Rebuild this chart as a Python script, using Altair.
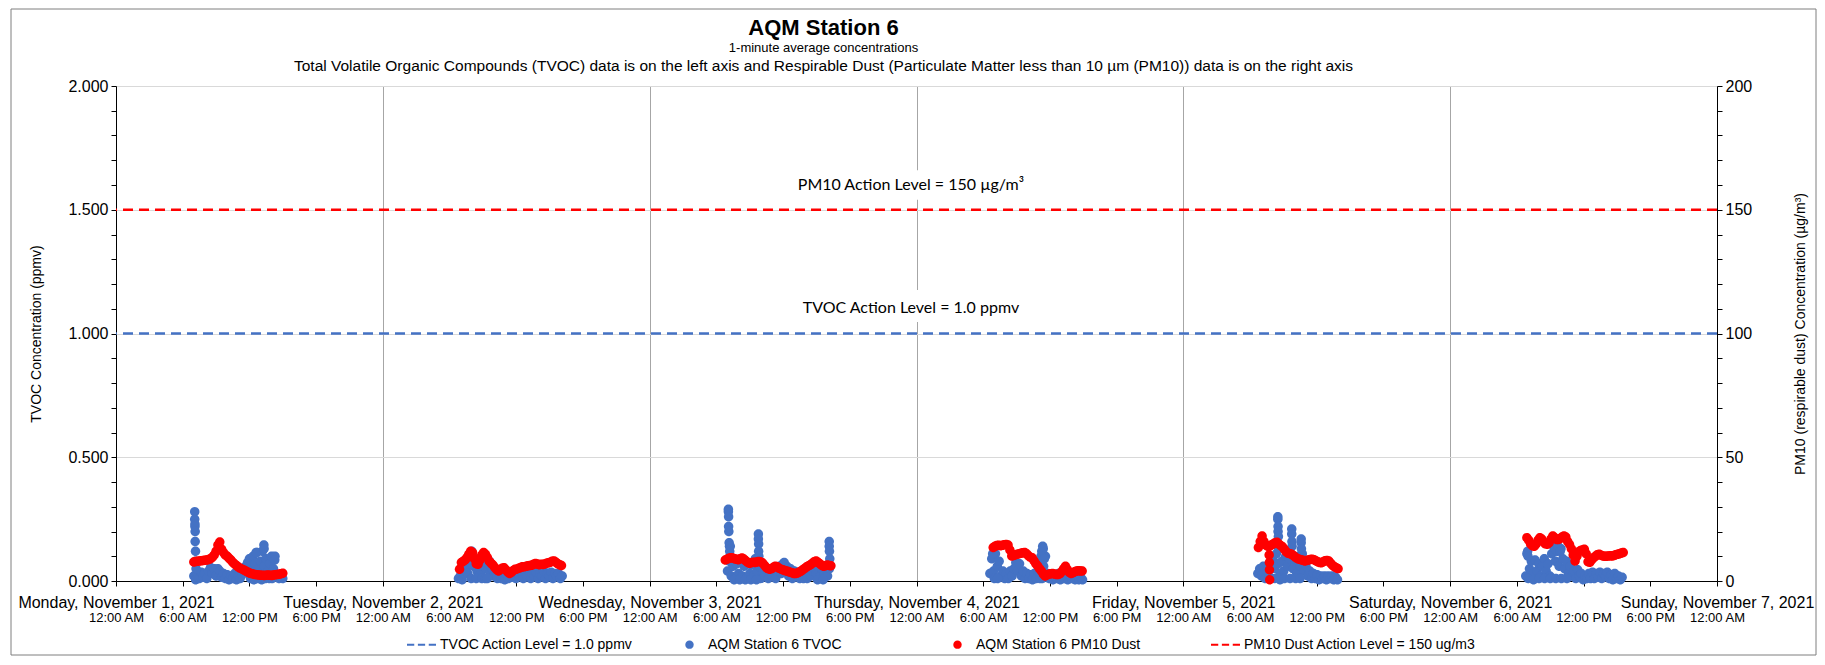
import altair as alt
import pandas as pd

# ---------------- data ----------------
DAY_DATES = ["2021-11-01", "2021-11-02", "2021-11-03", "2021-11-04", "2021-11-05", "2021-11-06"]
STEP_MINUTES = 10

SERIES = [
    "TVOC Action Level = 1.0 ppmv",
    "AQM Station 6 TVOC",
    "AQM Station 6 PM10 Dust",
    "PM10 Dust Action Level = 150 ug/m3",
]
SERIES_COLORS = ["#4472C4", "#4472C4", "#FF0000", "#FF0000"]

TVOC_ACTION = 1.0
PM10_ACTION = 150

# TVOC (ppmv), one reading every STEP_MINUTES starting at TVOC_START hour of each day
TVOC_START = [7.0, 6.8, 7.0, 6.6, 6.7, 6.8]
TVOC_D1 = [0.02, 0.005, 0.03, 0.01, 0.035, 0.015, 0.03, 0.01, 0.04, 0.055, 0.03, 0.05, 0.02, 0.05, 0.04,
           0.015, 0.03, 0.01, 0.025, 0.005, 0.02, 0.01, 0.03, 0.005, 0.02, 0.01, 0.025, 0.04, 0.06, 0.075,
           0.09, 0.06, 0.10, 0.07, 0.115, 0.05, 0.08, 0.12, 0.06, 0.09, 0.04, 0.07, 0.10, 0.05, 0.03, 0.02,
           0.01, 0.02, 0.01]
TVOC_D2 = [0.01, 0.02, 0.005, 0.03, 0.05, 0.03, 0.08, 0.11, 0.06, 0.09, 0.04, 0.07, 0.03, 0.06, 0.08, 0.05,
           0.07, 0.03, 0.05, 0.02, 0.04, 0.01, 0.03, 0.01, 0.02, 0.005, 0.025, 0.01, 0.03, 0.015, 0.035,
           0.01, 0.03, 0.02, 0.04, 0.01, 0.03, 0.02, 0.04, 0.01, 0.03, 0.02, 0.035, 0.01, 0.03, 0.02, 0.04,
           0.01, 0.03, 0.02, 0.035, 0.01, 0.03, 0.02, 0.03, 0.01, 0.02]
TVOC_D3 = [0.04, 0.08, 0.02, 0.06, 0.01, 0.07, 0.03, 0.08, 0.02, 0.06, 0.01, 0.07, 0.03, 0.065, 0.02, 0.08,
           0.04, 0.06, 0.01, 0.04, 0.02, 0.05, 0.01, 0.04, 0.02, 0.05, 0.01, 0.04, 0.06, 0.03, 0.07, 0.04,
           0.06, 0.02, 0.05, 0.01, 0.04, 0.02, 0.035, 0.01, 0.035, 0.01, 0.035, 0.01, 0.035, 0.02, 0.04,
           0.05, 0.03, 0.06, 0.02, 0.05, 0.03, 0.06, 0.02, 0.05]
TVOC_D4 = [0.03, 0.09, 0.04, 0.11, 0.06, 0.08, 0.02, 0.04, 0.01, 0.03, 0.01, 0.04, 0.02, 0.05, 0.075, 0.04,
           0.07, 0.02, 0.04, 0.01, 0.03, 0.01, 0.025, 0.005, 0.03, 0.01, 0.04, 0.08, 0.12, 0.06, 0.10, 0.03,
           0.01, 0.025, 0.005, 0.02, 0.01, 0.03, 0.005, 0.02, 0.01, 0.025, 0.005, 0.02, 0.01, 0.02, 0.005,
           0.015, 0.005, 0.015, 0.005]
TVOC_D5 = [0.03, 0.05, 0.02, 0.06, 0.01, 0.04, 0.02, 0.06, 0.09, 0.05, 0.11, 0.07, 0.03, 0.08, 0.04, 0.10,
           0.06, 0.09, 0.11, 0.05, 0.08, 0.03, 0.10, 0.06, 0.11, 0.04, 0.06, 0.02, 0.04, 0.01, 0.03, 0.01,
           0.025, 0.005, 0.02, 0.01, 0.02, 0.005, 0.02, 0.01, 0.02, 0.005, 0.015, 0.005]
TVOC_D6 = [0.02, 0.12, 0.05, 0.08, 0.03, 0.085, 0.04, 0.07, 0.02, 0.06, 0.09, 0.04, 0.07, 0.02, 0.11, 0.14,
           0.08, 0.12, 0.06, 0.13, 0.09, 0.05, 0.08, 0.03, 0.06, 0.02, 0.04, 0.01, 0.045, 0.02, 0.03, 0.005,
           0.02, 0.01, 0.03, 0.01, 0.035, 0.01, 0.03, 0.015, 0.035, 0.01, 0.03, 0.02, 0.035, 0.01, 0.025,
           0.005, 0.03, 0.01, 0.02, 0.005, 0.015]
TVOC_VALUES = [TVOC_D1, TVOC_D2, TVOC_D3, TVOC_D4, TVOC_D5, TVOC_D6]

# short bursts of readings (hour of day, ppmv)
TVOC_EXTRA_D1 = [(7.08, 0.28), (7.08, 0.25), (7.1, 0.23), (7.1, 0.22), (7.12, 0.20), (7.12, 0.16), (7.15, 0.12),
                 (7.15, 0.08), (7.2, 0.05), (12.1, 0.01), (12.4, 0.005), (12.6, 0.115), (12.75, 0.01),
                 (13.1, 0.005), (13.3, 0.145), (13.32, 0.13), (13.45, 0.01), (13.8, 0.01), (14.05, 0.01),
                 (14.3, 0.10), (14.28, 0.085)]
TVOC_EXTRA_D2 = [(7.9, 0.115), (8.0, 0.12), (8.1, 0.10), (7.95, 0.01), (8.4, 0.01), (8.9, 0.01), (9.2, 0.01),
                 (9.4, 0.01), (9.6, 0.08)]
TVOC_EXTRA_D3 = [(7.08, 0.29), (7.08, 0.28), (7.1, 0.26), (7.1, 0.22), (7.12, 0.20), (7.15, 0.155), (7.18, 0.14),
                 (7.2, 0.12), (7.22, 0.10), (7.25, 0.14), (9.78, 0.19), (9.78, 0.17), (9.8, 0.15), (9.8, 0.12),
                 (9.82, 0.10), (16.15, 0.16), (16.15, 0.14), (16.17, 0.12), (16.2, 0.09), (9.5, 0.09),
                 (12.1, 0.075), (7.6, 0.005), (8.1, 0.005), (8.6, 0.005), (9.1, 0.005), (9.6, 0.005),
                 (15.1, 0.005), (15.6, 0.005)]
TVOC_EXTRA_D4 = [(11.35, 0.14), (11.4, 0.13), (11.2, 0.10), (11.5, 0.09), (11.3, 0.01), (11.1, 0.01),
                 (7.0, 0.01), (7.3, 0.01), (6.85, 0.11)]
TVOC_EXTRA_D5 = [(8.5, 0.26), (8.5, 0.25), (8.52, 0.22), (8.52, 0.20), (8.55, 0.18), (8.55, 0.15), (8.58, 0.13),
                 (9.75, 0.21), (9.75, 0.19), (9.77, 0.16), (9.78, 0.14), (10.6, 0.17), (10.6, 0.155),
                 (10.62, 0.13), (8.2, 0.01), (8.7, 0.005), (9.1, 0.01), (9.6, 0.01), (10.1, 0.01), (10.5, 0.01)]
TVOC_EXTRA_D6 = [(7.0, 0.01), (7.5, 0.005), (8.0, 0.01), (8.5, 0.01), (9.0, 0.01), (9.5, 0.01), (10.0, 0.01),
                 (10.5, 0.01), (6.9, 0.11), (7.0, 0.10), (9.4, 0.13), (9.7, 0.14), (9.9, 0.12)]
TVOC_EXTRAS = [TVOC_EXTRA_D1, TVOC_EXTRA_D2, TVOC_EXTRA_D3, TVOC_EXTRA_D4, TVOC_EXTRA_D5, TVOC_EXTRA_D6]

# PM10 (ug/m3), one reading every STEP_MINUTES starting at PM10_START hour of each day
PM10_START = [7.0, 6.9, 6.8, 6.9, 6.75, 6.9]
PM10_D1 = [7.7, 7.9, 8.0, 8.1, 8.2, 8.3, 8.4, 8.5, 8.7, 9.0, 9.6, 10.5, 12.0, 14.5, 15.8, 12.8, 11.5, 10.5,
           10.0, 9.2, 8.5, 7.6, 6.9, 6.3, 5.7, 5.2, 4.8, 4.4, 4.0, 3.6, 3.2, 3.0, 2.8, 2.6, 2.5, 2.4, 2.3,
           2.3, 2.2, 2.3, 2.4, 2.3, 2.2, 2.4, 2.5, 2.6, 2.7, 2.9, 3.1]
PM10_D2 = [4.7, 7.5, 8.0, 8.5, 9.5, 10.8, 12.0, 11.5, 9.0, 7.0, 6.8, 8.5, 10.5, 11.5, 10.8, 9.5, 8.0, 7.2,
           6.5, 5.5, 4.6, 4.0, 4.6, 5.2, 5.4, 4.5, 3.6, 3.0, 3.5, 4.2, 4.7, 4.8, 5.2, 5.5, 5.8, 5.8, 6.0, 6.2,
           6.3, 6.4, 6.8, 7.1, 6.9, 6.6, 6.8, 6.7, 6.9, 7.2, 7.4, 7.6, 8.0, 8.1, 7.6, 7.0, 6.6, 6.3]
PM10_D3 = [8.5, 8.8, 9.2, 9.4, 9.3, 9.0, 8.8, 8.6, 9.0, 9.3, 8.9, 8.2, 7.6, 7.2, 7.4, 7.6, 7.5, 7.7, 7.9,
           7.8, 7.4, 6.5, 5.6, 5.0, 4.7, 5.0, 5.6, 6.0, 5.8, 5.2, 4.8, 4.5, 4.2, 4.0, 3.8, 3.5, 3.3, 3.0,
           3.0, 3.2, 3.6, 4.0, 4.6, 5.2, 5.8, 6.2, 6.6, 7.2, 7.8, 8.1, 7.6, 7.0, 6.4, 6.0, 6.2, 6.5, 6.3, 6.2]
PM10_D4 = [13.5, 14.0, 14.3, 14.4, 14.2, 14.4, 14.6, 14.8, 14.5, 12.5, 10.1, 10.3, 10.6, 10.8, 11.0, 11.2,
           11.4, 11.5, 11.0, 10.2, 9.6, 9.4, 8.2, 7.0, 6.1, 5.0, 4.0, 2.8, 2.0, 2.4, 2.7, 2.9, 3.0, 2.8, 2.6,
           2.6, 2.9, 3.8, 5.0, 6.0, 4.6, 3.5, 3.0, 3.3, 3.7, 4.0, 4.1, 4.0, 4.0]
PM10_D5 = [13.5, 16.0, 18.2, 16.0, 14.5, 14.0, 14.0, 14.5, 15.0, 15.5, 15.7, 15.0, 14.3, 13.8, 12.8, 11.8,
           11.2, 11.0, 10.8, 10.2, 9.6, 9.1, 8.8, 8.6, 8.4, 8.1, 8.3, 8.5, 8.7, 8.8, 8.6, 8.2, 7.8, 7.5, 7.4,
           7.8, 8.2, 8.3, 8.1, 7.2, 6.4, 5.8, 5.4, 5.0]
PM10_D6 = [17.5, 16.5, 15.0, 14.2, 14.0, 15.0, 16.5, 17.5, 17.0, 15.8, 15.0, 14.8, 15.5, 17.0, 18.2, 17.5,
           16.8, 16.8, 17.2, 17.8, 18.2, 17.8, 16.0, 14.8, 13.0, 10.5, 8.1, 10.0, 11.8, 12.3, 12.5, 12.8,
           11.0, 7.8, 7.6, 8.6, 9.4, 10.0, 10.6, 10.8, 10.4, 10.1, 10.0, 10.0, 10.1, 10.2, 10.1, 10.3, 10.6,
           10.8, 11.0, 11.3, 11.5]
PM10_VALUES = [PM10_D1, PM10_D2, PM10_D3, PM10_D4, PM10_D5, PM10_D6]
PM10_EXTRAS = [[], [], [], [], [(7.72, 10.5), (7.74, 7.5), (7.75, 4.5), (7.77, 0.5)], []]

AXIS_START = "2021-11-01"
AXIS_END = "2021-11-07"
DAY_TICKS = ["2021-11-01", "2021-11-02", "2021-11-03", "2021-11-04", "2021-11-05", "2021-11-06", "2021-11-07"]
TICK_HOURS = [0, 6, 12, 18]
TVOC_TICKS = [0.0, 0.1, 0.2, 0.3, 0.4, 0.5, 0.6, 0.7, 0.8, 0.9, 1.0, 1.1, 1.2, 1.3, 1.4, 1.5, 1.6, 1.7, 1.8,
              1.9, 2.0]
PM10_TICKS = [0, 10, 20, 30, 40, 50, 60, 70, 80, 90, 100, 110, 120, 130, 140, 150, 160, 170, 180, 190, 200]

NOTE_TEXT = ["PM10 Action Level = 150 µg/m³", "TVOC Action Level = 1.0 ppmv"]
NOTE_TIME = ["2021-11-03T23:30:00Z", "2021-11-03T23:30:00Z"]
NOTE_Y = [1.6, 1.103]                         # in TVOC (left-axis) units
NOTE_BOX_T1 = ["2021-11-03T13:30:00Z", "2021-11-03T13:30:00Z"]
NOTE_BOX_T2 = ["2021-11-04T09:30:00Z", "2021-11-04T09:30:00Z"]
NOTE_BOX_Y1 = [1.54, 1.046]
NOTE_BOX_Y2 = [1.66, 1.176]

TITLE = "AQM Station 6"
SUBTITLE_1 = "1-minute average concentrations"
SUBTITLE_2 = ("Total Volatile Organic Compounds (TVOC) data is on the left axis and Respirable Dust "
              "(Particulate Matter less than 10 µm (PM10)) data is on the right axis")


def iso(ts):
    return ts.strftime("%Y-%m-%dT%H:%M:%SZ")


def ms(day, hour=0):
    return int((pd.Timestamp(day, tz="UTC") + pd.Timedelta(hours=hour)).value // 10**6)


def build(starts, values, extras, name):
    rows = []
    for d, s, vals, ex in zip(DAY_DATES, starts, values, extras):
        base = pd.Timestamp(d) + pd.Timedelta(hours=s)
        for i, v in enumerate(vals):
            rows.append({"t": iso(base + pd.Timedelta(minutes=STEP_MINUTES * i)), "v": v, "series": name})
        for h, v in ex:
            rows.append({"t": iso(pd.Timestamp(d) + pd.Timedelta(hours=h)), "v": v, "series": name})
    return pd.DataFrame(rows)


tvoc_df = build(TVOC_START, TVOC_VALUES, TVOC_EXTRAS, SERIES[1])
pm_df = build(PM10_START, PM10_VALUES, PM10_EXTRAS, SERIES[2])
notes_df = pd.DataFrame({"t": NOTE_TIME, "y": NOTE_Y, "label": NOTE_TEXT,
                         "b1": NOTE_BOX_T1, "b2": NOTE_BOX_T2, "y1": NOTE_BOX_Y1, "y2": NOTE_BOX_Y2})

# ---------------- scales & axes ----------------
FONT = "Liberation Sans"
x_scale = alt.Scale(type="utc", domain=[ms(AXIS_START), ms(AXIS_END)], nice=False)

day_axis = alt.Axis(
    orient="bottom", values=[ms(d) for d in DAY_TICKS],
    labelExpr="utcFormat(datum.value, '%A, %B %-d, %Y')",
    labelFont=FONT, labelFontSize=16, labelColor="black", labelPadding=13, labelLimit=400,
    labelFlush=False, labelOverlap=False, ticks=False, domain=False,
    grid=True, gridColor="#a6a6a6", gridWidth=1, title=None,
)
time_axis = alt.Axis(
    orient="bottom", values=[ms(d, h) for d in DAY_TICKS[:-1] for h in TICK_HOURS] + [ms(DAY_TICKS[-1])],
    labelExpr="utcFormat(datum.value, '%-I:%M %p')",
    labelFont=FONT, labelFontSize=13, labelColor="black", labelPadding=25, labelLimit=200,
    labelFlush=False, labelOverlap=False, tickSize=5, tickColor="black", domainColor="black",
    grid=False, title=None,
)


# the two subtitle lines are carried by label-less top axes so each can have its own size
def top_title_axis(text, size, ty):
    return alt.Axis(
        orient="top", labels=False, ticks=False, domain=False, grid=False,
        title=text, titleFont=FONT, titleFontSize=size, titleFontWeight="normal", titleColor="black",
        titleX=707, titleY=ty, titleAlign="center", titleBaseline="middle", titleLimit=1600,
    )


sub1_axis = top_title_axis(SUBTITLE_1, 13, -39)
sub2_axis = top_title_axis(SUBTITLE_2, 15.5, -21)

yl_scale = alt.Scale(domain=[0, 2], nice=False)
yr_scale = alt.Scale(domain=[0, 200], nice=False)
major_l = "round(datum.value * 10) % 5 == 0"
yl_axis = alt.Axis(
    orient="left", values=TVOC_TICKS,
    labelExpr=f"{major_l} ? format(datum.value, '.3f') : ''",
    labelFont=FONT, labelFontSize=16, labelColor="black", labelPadding=3,
    tickSize=5, tickColor="black", domainColor="black",
    grid=True, gridColor="#d9d9d9",
    gridOpacity={"condition": {"test": major_l, "value": 1}, "value": 0},
    title="TVOC Concentration (ppmv)", titleFont=FONT, titleFontSize=14, titleFontWeight="normal",
    titleColor="black", titlePadding=24,
)
yr_axis = alt.Axis(
    orient="right", values=PM10_TICKS,
    labelExpr="datum.value % 50 == 0 ? format(datum.value, 'd') : ''",
    labelFont=FONT, labelFontSize=16, labelColor="black", labelPadding=3,
    tickSize=5, tickColor="black", domainColor="black", grid=False,
    title="PM10 (respirable dust) Concentration (µg/m³)", titleFont=FONT, titleFontSize=14,
    titleFontWeight="normal", titleColor="black", titleAngle=270, titlePadding=56,
)

# legend symbols: a dashed line for the action levels, a dot for the measurements
DASH_PATH = "M-1,-0.07H-0.5V0.07H-1Z M-0.25,-0.07H0.25V0.07H-0.25Z M0.5,-0.07H1V0.07H0.5Z"
DOT_PATH = "M-0.29,0A0.29,0.29,0,1,1,0.29,0A0.29,0.29,0,1,1,-0.29,0Z"
SERIES_SHAPES = [DASH_PATH, DOT_PATH, DOT_PATH, DASH_PATH]

legend = alt.Legend(
    title=None, orient="none", legendX=290, legendY=543, direction="horizontal", columns=4,
    columnPadding=0, gridAlign="all", symbolSize=841, labelFont=FONT, labelFontSize=14,
    labelColor="black", labelLimit=500, labelOffset=3, padding=0, symbolOpacity=1,
)
color_enc = alt.Color("series:N", scale=alt.Scale(domain=SERIES, range=SERIES_COLORS), legend=legend)
shape_enc = alt.Shape("series:N", scale=alt.Scale(domain=SERIES, range=SERIES_SHAPES), legend=legend)
POINT_SIZE = 1070

# ---------------- layers ----------------
frame = alt.Chart(alt.Data(values=[{}])).mark_rect(fillOpacity=0, stroke="#7f7f7f", strokeWidth=1).encode(
    x=alt.value(-105), x2=alt.value(1700), y=alt.value(-77), y2=alt.value(569)
)

x_day = alt.X("t:T", scale=x_scale, axis=day_axis, title=None)
x_time = alt.X("t:T", scale=x_scale, axis=time_axis, title=None)

tvoc_rule = alt.Chart(pd.DataFrame({"level": [TVOC_ACTION]})).mark_rule(
    color="#4472C4", strokeDash=[10, 6], strokeWidth=2.5
).encode(y=alt.Y("level:Q", scale=yl_scale, axis=yl_axis))
tvoc_pts = alt.Chart(tvoc_df).mark_point(filled=True, size=POINT_SIZE, opacity=1).encode(
    x=x_day, y=alt.Y("v:Q", scale=yl_scale, axis=yl_axis), color=color_enc, shape=shape_enc
)
left = alt.layer(tvoc_rule, tvoc_pts)

pm_pts = alt.Chart(pm_df).mark_point(filled=True, size=POINT_SIZE, opacity=1).encode(
    x=x_time, y=alt.Y("v:Q", scale=yr_scale, axis=yr_axis), color=color_enc, shape=shape_enc
)
pm_rule = alt.Chart(pd.DataFrame({"level": [PM10_ACTION]})).mark_rule(
    color="#FF0000", strokeDash=[10, 6], strokeWidth=2.5
).encode(y=alt.Y("level:Q", scale=yr_scale, axis=yr_axis))
right = alt.layer(pm_pts, pm_rule)

note_boxes = alt.Chart(notes_df).mark_rect(color="white").encode(
    x=alt.X("b1:T", scale=x_scale, axis=sub1_axis), x2="b2:T",
    y=alt.Y("y1:Q", scale=alt.Scale(domain=[0, 2], nice=False), axis=None), y2="y2:Q",
)
note_text = alt.Chart(notes_df).mark_text(font="Lato", fontSize=16, color="black", align="center",
                                          baseline="middle").encode(
    x=alt.X("t:T", scale=x_scale, axis=sub2_axis),
    y=alt.Y("y:Q", scale=alt.Scale(domain=[0, 2], nice=False), axis=None),
    text="label:N",
)

chart = alt.layer(frame, note_boxes, note_text, left, right).resolve_scale(y="independent").resolve_axis(
    x="independent", y="independent"
).properties(
    width=1601, height=495,
    autosize=alt.AutoSizeParams(type="none"),
    padding={"left": 108, "top": 78, "right": 100, "bottom": 76},
    background="white",
    title=alt.TitleParams(
        text=TITLE, font=FONT, fontSize=22, fontWeight="bold", color="black",
        anchor="middle", frame="group", dx=-93, offset=-31,
    ),
).configure(font=FONT).configure_view(strokeWidth=0)

chart.save("out.html", embed_options={"renderer": "svg", "actions": False})
